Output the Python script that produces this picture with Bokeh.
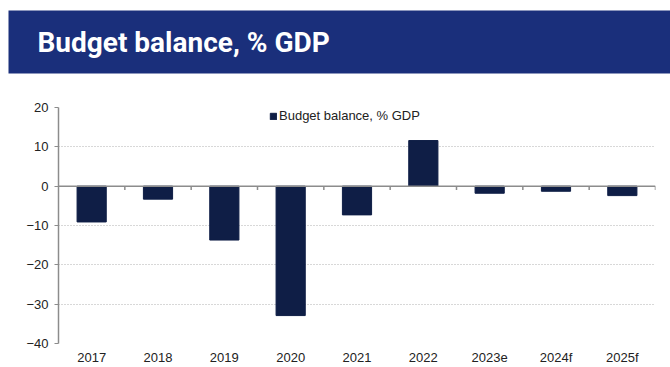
from bokeh.plotting import figure
from bokeh.layouts import column
from bokeh.models import Range1d, FixedTicker, Span, Legend, LegendItem, ColumnDataSource
from bokeh.core.properties import value
from bokeh.embed import file_html
from bokeh.resources import INLINE

title_text = "Budget balance, % GDP"
series_name = "Budget balance, % GDP"
categories = ["2017", "2018", "2019", "2020", "2021", "2022", "2023e", "2024f", "2025f"]
balance = [-9.1, -3.3, -13.7, -32.9, -7.3, 11.6, -1.8, -1.3, -2.4]
y_ticks = [-40, -30, -20, -10, 0, 10, 20]

BANNER = "#1a2f7b"
BAR = "#0f1e46"
AXIS = "#8c8c8c"
FONT = "Liberation Sans"

# Banner (own figure, frame not aligned with the chart)
b = figure(width=670, height=80, output_backend="svg", toolbar_location=None,
           x_range=Range1d(0, 670), y_range=Range1d(80, 0),
           min_border=0, outline_line_color=None, frame_align=False)
b.axis.visible = False
b.grid.visible = False
b.quad(left=[8], right=[670], top=[10], bottom=[73], fill_color=BANNER, line_color=None)
b.text(x=[37], y=[42], text=[title_text], text_color="white", text_font=value("Roboto"),
       text_font_style="bold", text_font_size="28px", text_baseline="middle")

# Chart
n = len(categories)
xs = [i + 0.5 for i in range(n)]
src = ColumnDataSource(dict(x=xs, top=balance))
p = figure(width=670, height=287, output_backend="svg", toolbar_location=None,
           x_range=Range1d(0, n), y_range=Range1d(y_ticks[0], y_ticks[-1]),
           min_border_left=58, min_border_right=15, min_border_top=27, min_border_bottom=23,
           outline_line_color=None, frame_align=False)

r = p.vbar(x="x", top="top", bottom=0, width=0.44, source=src, fill_color=BAR, line_color=BAR)

p.xgrid.visible = False
p.ygrid.ticker = FixedTicker(ticks=[t for t in y_ticks if t != 0])
p.ygrid.grid_line_color = "#b0b0b0"
p.ygrid.grid_line_dash = "1 2"
p.ygrid.grid_line_width = 1

p.yaxis.ticker = FixedTicker(ticks=y_ticks)
p.yaxis.axis_line_color = AXIS
p.yaxis.axis_line_width = 1.5
p.yaxis.major_tick_line_color = AXIS
p.yaxis.major_tick_out = 4
p.yaxis.major_tick_in = 0
p.yaxis.minor_tick_line_color = None
p.yaxis.major_label_text_font = FONT
p.yaxis.major_label_text_font_size = "13px"
p.yaxis.major_label_text_color = "#222222"
p.yaxis.major_label_standoff = 6

p.xaxis.ticker = FixedTicker(ticks=xs)
p.xaxis.major_label_overrides = {x: c for x, c in zip(xs, categories)}
p.xaxis.axis_line_color = None
p.xaxis.major_tick_line_color = None
p.xaxis.major_tick_out = 0
p.xaxis.major_tick_in = 0
p.xaxis.minor_tick_line_color = None
p.xaxis.minor_tick_out = 0
p.xaxis.major_label_text_font = FONT
p.xaxis.major_label_text_font_size = "13px"
p.xaxis.major_label_text_color = "#222222"
p.xaxis.major_label_standoff = 6

zero = Span(location=0, dimension="width", line_color=AXIS, line_width=1.5)
p.add_layout(zero)
bounds = list(range(1, n + 1))
p.segment(x0=bounds, x1=bounds, y0=[0] * n, y1=[-1.0] * n, line_color=AXIS, line_width=1.5)

legend = Legend(items=[LegendItem(label=series_name, renderers=[r])], location=(211, 220),
                glyph_width=8, glyph_height=8, label_text_font=FONT, label_text_font_size="13px",
                label_text_color="#222222", padding=0, margin=0, border_line_color=None,
                background_fill_alpha=0, label_standoff=2, label_height=14)
p.add_layout(legend, "center")

layout = column(b, p, spacing=0)
open("out.html", "w").write(file_html(layout, INLINE))
